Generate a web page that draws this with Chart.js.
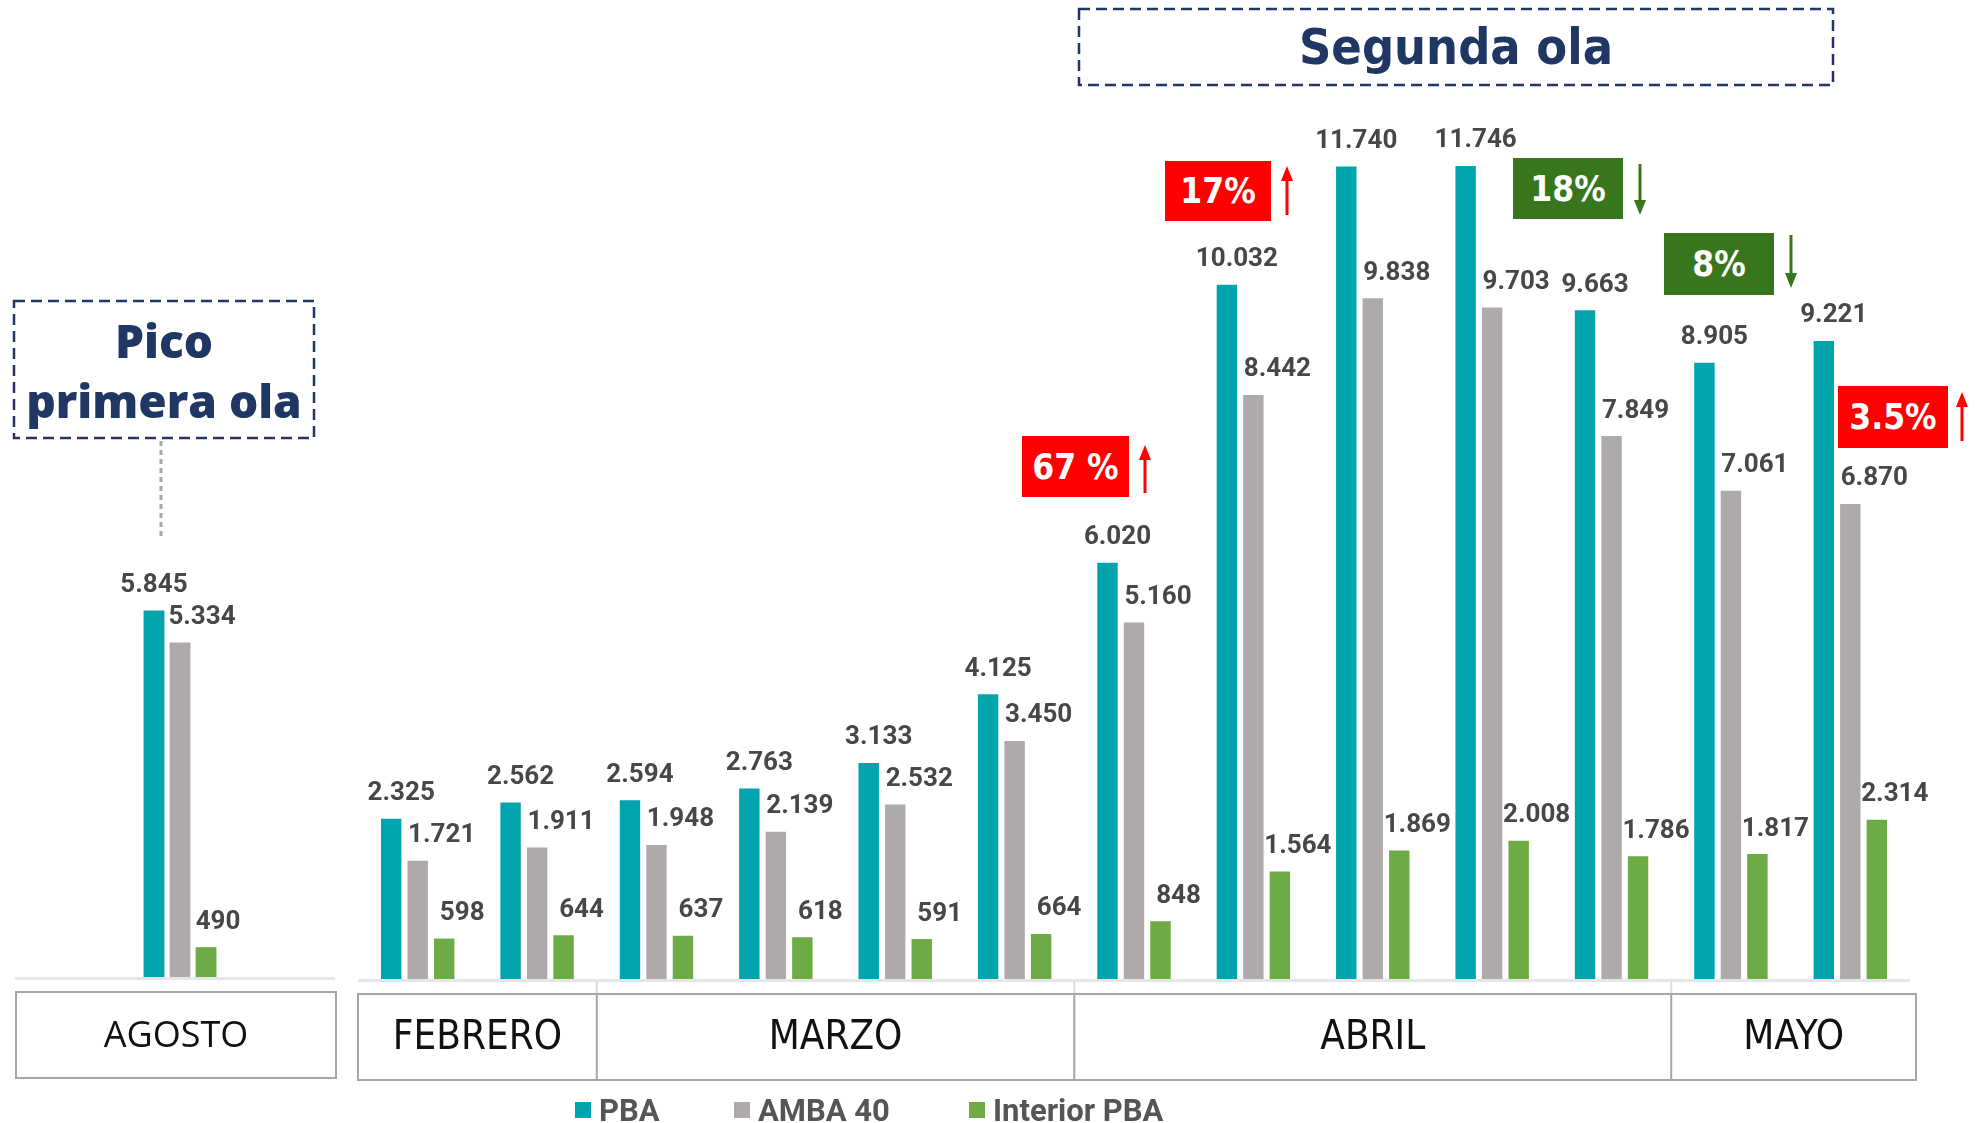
<!DOCTYPE html>
<html><head><meta charset="utf-8">
<script src="https://cdn.jsdelivr.net/npm/chart.js@4.4.1/dist/chart.umd.min.js"></script>
<style>
html,body{margin:0;padding:0;background:#fff;width:1983px;height:1123px;overflow:hidden;position:relative;font-family:Roboto,"DejaVu Sans",sans-serif;}
.wrap{position:absolute;top:0;}
canvas{display:block;}
svg{position:absolute;left:0;top:0;pointer-events:none;}
.box{position:absolute;display:flex;align-items:center;justify-content:center;color:#fff;font-family:"Liberation Sans Narrow","DejaVu Sans Condensed",Roboto,sans-serif;font-weight:bold;font-size:35px;}
.red{background:#ff0000;}
.green{background:#38761d;}
.title{position:absolute;display:flex;align-items:center;justify-content:center;color:#203764;font-weight:bold;text-align:center;}
.lg{position:absolute;top:1092px;height:36px;display:flex;align-items:center;font-family:Roboto,sans-serif;font-weight:bold;font-size:31px;color:#555;}
.lg i{display:inline-block;width:16px;height:16px;margin-right:8px;}
</style></head><body>
<div class="wrap" style="left:0;width:350px;height:1123px"><canvas id="cL" width="350" height="1123"></canvas></div>
<div class="wrap" style="left:350px;width:1633px;height:1123px"><canvas id="cR" width="1633" height="1123"></canvas></div>

<svg width="1983" height="1123" viewBox="0 0 1983 1123">
  <rect x="1079" y="9" width="754" height="76" fill="none" stroke="#203764" stroke-width="2.5" stroke-dasharray="11 6"/>
  <rect x="14" y="301" width="300" height="137" fill="none" stroke="#203764" stroke-width="2.5" stroke-dasharray="11 6"/>
  <line x1="161" y1="441" x2="161" y2="537" stroke="#a6a6a6" stroke-width="3" stroke-dasharray="5 4"/>
  <g id="arrows"></g>
</svg>

<div class="title" style="left:1079px;top:9px;width:754px;height:76px;font-family:'Liberation Sans Narrow','DejaVu Sans Condensed',sans-serif;font-size:50px;">Segunda ola</div>
<div class="title" style="left:14px;top:301px;width:300px;height:137px;font-family:'Open Sans',sans-serif;font-weight:800;font-size:46px;line-height:60px;">Pico<br>primera ola</div>

<div id="boxes"></div>
<div id="legend"></div>

<script>
// ---- data ----
const seriesNames = ['PBA', 'AMBA 40', 'Interior PBA'];
const seriesColors = ['#00a4ad', '#aeaaa9', '#6dab44'];

const peakMonth = 'AGOSTO';
const peakCategories = ['Agosto'];
const peakPBA = [5845];
const peakAMBA = [5334];
const peakInterior = [490];

const weekCategories = ['Feb 1', 'Feb 2', 'Mar 1', 'Mar 2', 'Mar 3', 'Mar 4', 'Abr 1', 'Abr 2', 'Abr 3', 'Abr 4', 'Abr 5', 'May 1', 'May 2'];
const weekPBA = [2325, 2562, 2594, 2763, 3133, 4125, 6020, 10032, 11740, 11746, 9663, 8905, 9221];
const weekAMBA = [1721, 1911, 1948, 2139, 2532, 3450, 5160, 8442, 9838, 9703, 7849, 7061, 6870];
const weekInterior = [598, 644, 637, 618, 591, 664, 848, 1564, 1869, 2008, 1786, 1817, 2314];

const monthNames = ['FEBRERO', 'MARZO', 'ABRIL', 'MAYO'];
const monthSpans = [2, 4, 5, 2];

const changeLabels = ['67 %', '17%', '18%', '8%', '3.5%'];
const changeDirections = ['up', 'up', 'down', 'down', 'up'];

// ---- helpers ----
const fmt = v => String(v).replace(/\B(?=(\d{3})+(?!\d))/g, '.');

const valueLabels = {
  id: 'valueLabels',
  afterDatasetsDraw(chart, args, opts) {
    const ctx = chart.ctx;
    ctx.save();
    ctx.font = 'bold 26px Roboto, sans-serif';
    ctx.fillStyle = '#474747';
    ctx.textAlign = 'center';
    ctx.textBaseline = 'middle';
    chart.data.datasets.forEach((ds, i) => {
      chart.getDatasetMeta(i).data.forEach((bar, j) => {
        ctx.fillText(fmt(ds.data[j]), bar.x + opts.dx[i], bar.y - 25);
      });
    });
    ctx.restore();
  }
};

const monthFrame = {
  id: 'monthFrame',
  afterDraw(chart, args, o) {
    const ctx = chart.ctx, a = chart.chartArea, xs = chart.scales.x;
    const step = xs.getPixelForValue(1) - xs.getPixelForValue(0) || (a.right - a.left);
    ctx.save();
    ctx.fillStyle = '#e6e6e6';
    ctx.fillRect(a.left + o.lineL, a.bottom - 1, (a.right + o.lineR) - (a.left + o.lineL), 3);
    const top = a.bottom + 14, bot = a.bottom + 100;
    const edges = [a.left + o.boxL];
    let cum = 0;
    o.spans.forEach((s, k) => {
      cum += s;
      if (k < o.spans.length - 1) edges.push(xs.getPixelForValue(cum - 1) + step / 2);
    });
    edges.push(a.right + o.boxR);
    ctx.strokeStyle = '#dcdcdc';
    ctx.lineWidth = 2;
    for (let k = 1; k < edges.length - 1; k++) {
      ctx.beginPath(); ctx.moveTo(edges[k], a.bottom + 2); ctx.lineTo(edges[k], top); ctx.stroke();
    }
    ctx.strokeStyle = '#a6a6a6';
    ctx.lineWidth = 2;
    ctx.strokeRect(edges[0], top, edges[edges.length - 1] - edges[0], bot - top);
    for (let k = 1; k < edges.length - 1; k++) {
      ctx.beginPath(); ctx.moveTo(edges[k], top); ctx.lineTo(edges[k], bot); ctx.stroke();
    }
    ctx.fillStyle = '#111';
    ctx.font = o.font;
    ctx.textAlign = 'center';
    ctx.textBaseline = 'middle';
    o.names.forEach((n, k) => ctx.fillText(n, (edges[k] + edges[k + 1]) / 2, (top + bot) / 2 + 2));
    ctx.restore();
  }
};

function makeChart(id, labels, series, cfg) {
  return new Chart(document.getElementById(id), {
    type: 'bar',
    data: {
      labels: labels,
      datasets: series.map((d, i) => ({
        label: seriesNames[i], data: d, backgroundColor: seriesColors[i], borderWidth: 0,
        categoryPercentage: cfg.cp, barPercentage: cfg.bp
      }))
    },
    options: {
      responsive: false, animation: false,
      layout: { padding: cfg.padding },
      scales: {
        x: { display: false },
        y: { display: false, min: 0, max: cfg.max }
      },
      plugins: {
        legend: { display: false }, tooltip: { enabled: false },
        valueLabels: { dx: cfg.dx },
        monthFrame: cfg.frame
      }
    },
    plugins: [valueLabels, monthFrame]
  });
}

makeChart('cL', peakCategories, [peakPBA, peakAMBA, peakInterior], {
  cp: 0.244, bp: 0.8, max: 15550,
  padding: { left: 20, right: 10, top: 0, bottom: 145 },
  dx: [0, 22, 12],
  frame: { names: [peakMonth], spans: [1], lineL: -5, lineR: -5, boxL: -4, boxR: -4, font: '36px "Open Sans", sans-serif' }
});

makeChart('cR', weekCategories, [weekPBA, weekAMBA, weekInterior], {
  cp: 0.666, bp: 0.77, max: 14141,
  padding: { left: 8, right: 73, top: 0, bottom: 143 },
  dx: [10, 24, 18],
  frame: { names: monthNames, spans: monthSpans, lineL: 0, lineR: 0, boxL: 0, boxR: 6, font: '40px "Liberation Sans Narrow", "DejaVu Sans Condensed", sans-serif' }
});

// ---- annotation boxes with arrows ----
const boxPos = [
  { x: 1022, y: 436, w: 107, h: 61, ax: 1145, ay1: 445, ay2: 493 },
  { x: 1165, y: 161, w: 106, h: 60, ax: 1287, ay1: 166, ay2: 215 },
  { x: 1513, y: 158, w: 110, h: 61, ax: 1640, ay1: 164, ay2: 215 },
  { x: 1664, y: 233, w: 110, h: 62, ax: 1791, ay1: 235, ay2: 288 },
  { x: 1838, y: 386, w: 110, h: 62, ax: 1962, ay1: 392, ay2: 441 }
];
const boxesEl = document.getElementById('boxes');
const arrowsEl = document.getElementById('arrows');
const NS = 'http://www.w3.org/2000/svg';
changeLabels.forEach((t, k) => {
  const p = boxPos[k], up = changeDirections[k] === 'up';
  const col = up ? '#ff0000' : '#38761d';
  const d = document.createElement('div');
  d.className = 'box ' + (up ? 'red' : 'green');
  d.style.cssText = `left:${p.x}px;top:${p.y}px;width:${p.w}px;height:${p.h}px;`;
  d.textContent = t;
  boxesEl.appendChild(d);
  const line = document.createElementNS(NS, 'line');
  const head = document.createElementNS(NS, 'polygon');
  if (up) {
    line.setAttribute('x1', p.ax); line.setAttribute('x2', p.ax);
    line.setAttribute('y1', p.ay1 + 12); line.setAttribute('y2', p.ay2);
    head.setAttribute('points', `${p.ax},${p.ay1} ${p.ax - 6},${p.ay1 + 15} ${p.ax + 6},${p.ay1 + 15}`);
  } else {
    line.setAttribute('x1', p.ax); line.setAttribute('x2', p.ax);
    line.setAttribute('y1', p.ay1); line.setAttribute('y2', p.ay2 - 12);
    head.setAttribute('points', `${p.ax},${p.ay2} ${p.ax - 6},${p.ay2 - 15} ${p.ax + 6},${p.ay2 - 15}`);
  }
  line.setAttribute('stroke', col); line.setAttribute('stroke-width', '3');
  head.setAttribute('fill', col);
  arrowsEl.appendChild(line); arrowsEl.appendChild(head);
});

// ---- legend ----
const legendX = [575, 734, 969];
const legendEl = document.getElementById('legend');
seriesNames.forEach((n, i) => {
  const d = document.createElement('div');
  d.className = 'lg';
  d.style.left = legendX[i] + 'px';
  d.innerHTML = `<i style="background:${seriesColors[i]}"></i><span></span>`;
  d.querySelector('span').textContent = n;
  legendEl.appendChild(d);
});
</script>
</body></html>
